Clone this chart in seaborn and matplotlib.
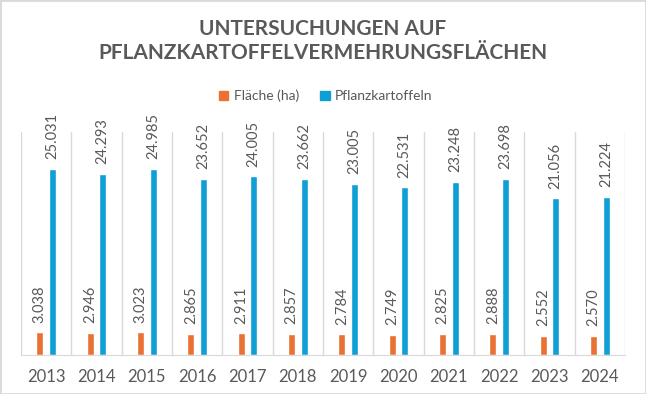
import matplotlib
matplotlib.use('Agg')
import matplotlib.pyplot as plt
import seaborn as sns
import pandas as pd
from matplotlib.patches import Patch, Rectangle

years = ['2013', '2014', '2015', '2016', '2017', '2018', '2019', '2020', '2021', '2022', '2023', '2024']
flaeche = [3038, 2946, 3023, 2865, 2911, 2857, 2784, 2749, 2825, 2888, 2552, 2570]
pflanz = [25031, 24293, 24985, 23652, 24005, 23662, 23005, 22531, 23248, 23698, 21056, 21224]
series = ['Fläche (ha)', 'Pflanzkartoffeln']
colors = ['#E97132', '#0F9ED5']
title = 'UNTERSUCHUNGEN AUF\nPFLANZKARTOFFELVERMEHRUNGSFLÄCHEN'

df = pd.DataFrame({
    'Jahr': years * 2,
    'Serie': [series[0]] * len(years) + [series[1]] * len(years),
    'Wert': flaeche + pflanz,
})

sns.set_style('white')
plt.rcParams['font.family'] = ['Lato', 'DejaVu Sans']
grey = '#595959'

fig = plt.figure(figsize=(6.46, 3.94), dpi=100)
ax = fig.add_axes([21 / 646, 1 - 355 / 394, 604 / 646, (355 - 131.7) / 394])

sns.barplot(data=df, x='Jahr', y='Wert', hue='Serie', palette=colors,
            width=0.5, gap=0.44, saturation=1, legend=False, ax=ax)

# German thousands separator
def fmt(v):
    return f'{int(v):,}'.replace(',', '.')

for c in ax.containers:
    ax.bar_label(c, labels=[fmt(v) for v in c.datavalues], rotation=90,
                 padding=7, fontsize=10.5, color=grey)

ax.set_ylim(0, 30000)
ax.set_xlim(-0.5, len(years) - 0.5)
ax.set_yticks([])
ax.set_xlabel('')
ax.set_ylabel('')
for s in ['top', 'left', 'right']:
    ax.spines[s].set_visible(False)
ax.spines['bottom'].set_color('#d9d9d9')
for i in range(len(years) + 1):
    ax.axvline(i - 0.5, color='#d9d9d9', lw=1, zorder=0)
ax.tick_params(axis='x', length=0, pad=10, labelsize=12, labelcolor=grey)

fig.text(0.5, 1 - 41 / 394, title, ha='center', va='center', fontsize=15,
         fontweight='bold', color=grey, linespacing=1.2)

handles = [Patch(color=c) for c in colors]
fig.legend(handles, series, loc='center', bbox_to_anchor=(0.504, 1 - 96 / 394),
           ncol=2, frameon=False, handlelength=0.7, handleheight=0.7,
           handletextpad=0.4, columnspacing=1.5, fontsize=10, labelcolor=grey)

fig.patches.append(Rectangle((0, 0), 1, 1, transform=fig.transFigure, fill=False,
                             edgecolor='#d9d9d9', linewidth=2))

fig.savefig('out.png', dpi=100)
